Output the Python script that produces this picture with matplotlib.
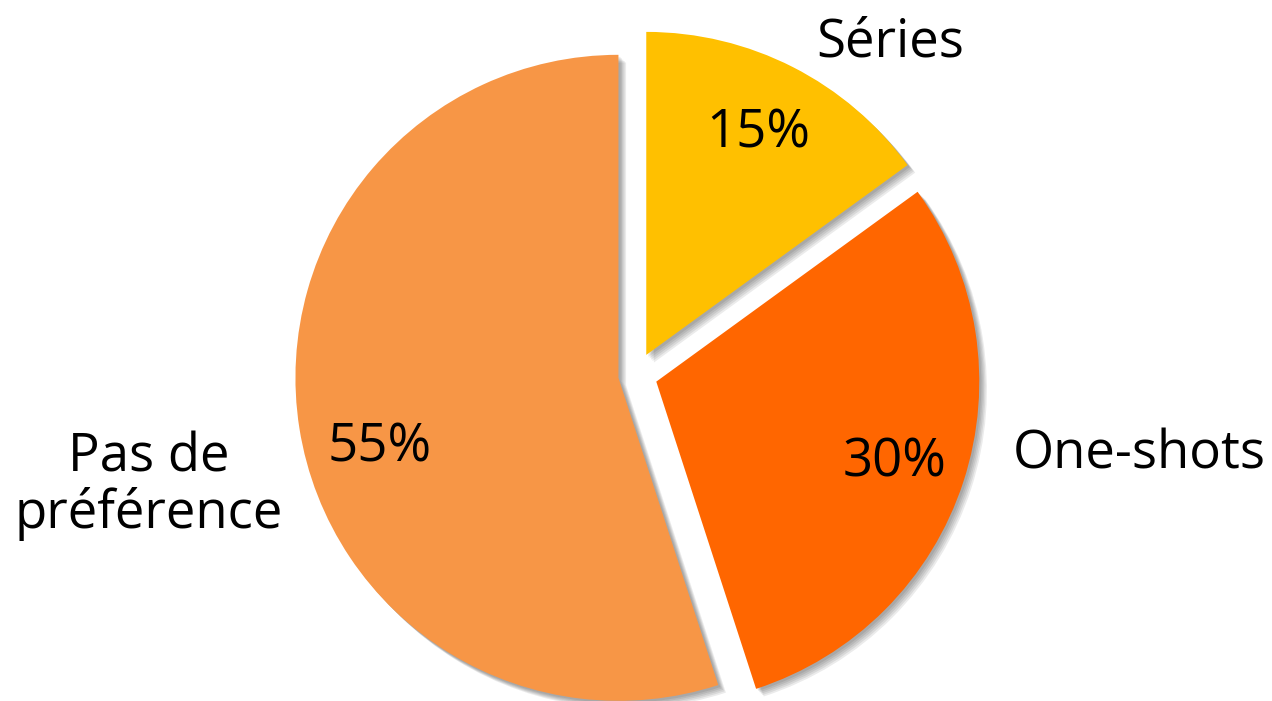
import matplotlib
matplotlib.use("Agg")
import matplotlib.pyplot as plt
import matplotlib.patheffects as pe

categories = ["Séries", "One-shots", "Pas de\npréférence"]
values = [15, 30, 55]
pct_labels = ["15%", "30%", "55%"]
colors = ["#FFC000", "#FF6600", "#F79646"]
explode = [0.07, 0.066, 0.055]

# label placements (data units, pie radius = 1)
label_pos = [(0.786, 0.985), (1.557, -0.288), (-1.51, -0.473)]
pct_pos = [(0.378, 0.703), (0.802, -0.313), (-0.793, -0.269)]

plt.rcParams['font.family'] = ['Open Sans', 'DejaVu Sans']

fig = plt.figure(figsize=(12.72, 7.01), dpi=100)
ax = fig.add_axes([0, 0, 1, 1])

wedges, texts, autotexts = ax.pie(
    values, labels=categories, colors=colors, explode=explode,
    startangle=90, counterclock=False, radius=1.0,
    autopct=lambda p: f"{p:.0f}%",
    textprops=dict(fontsize=38, color="black"),
)

shadow = [pe.SimplePatchShadow(offset=(o, -o), shadow_rgbFace="#000000", alpha=0.08)
          for o in (1.5, 2.5, 3.5, 4.5, 5.5)] + [pe.Normal()]
for w in wedges:
    w.set_path_effects(shadow)
    w.set_linewidth(0)

for t, (x, y) in zip(texts, label_pos):
    t.set_position((x, y))
    t.set_ha("center")
    t.set_va("baseline")
    t.set_multialignment("center")
    t.set_linespacing(1.05)
for t, (x, y) in zip(autotexts, pct_pos):
    t.set_position((x, y))
    t.set_ha("center")
    t.set_va("baseline")

ax.set_aspect("equal")
ax.set_xlim(-1.969, 1.969)
ax.set_ylim(-1.009, 1.161)
ax.axis("off")

fig.savefig("out.png", dpi=100)
